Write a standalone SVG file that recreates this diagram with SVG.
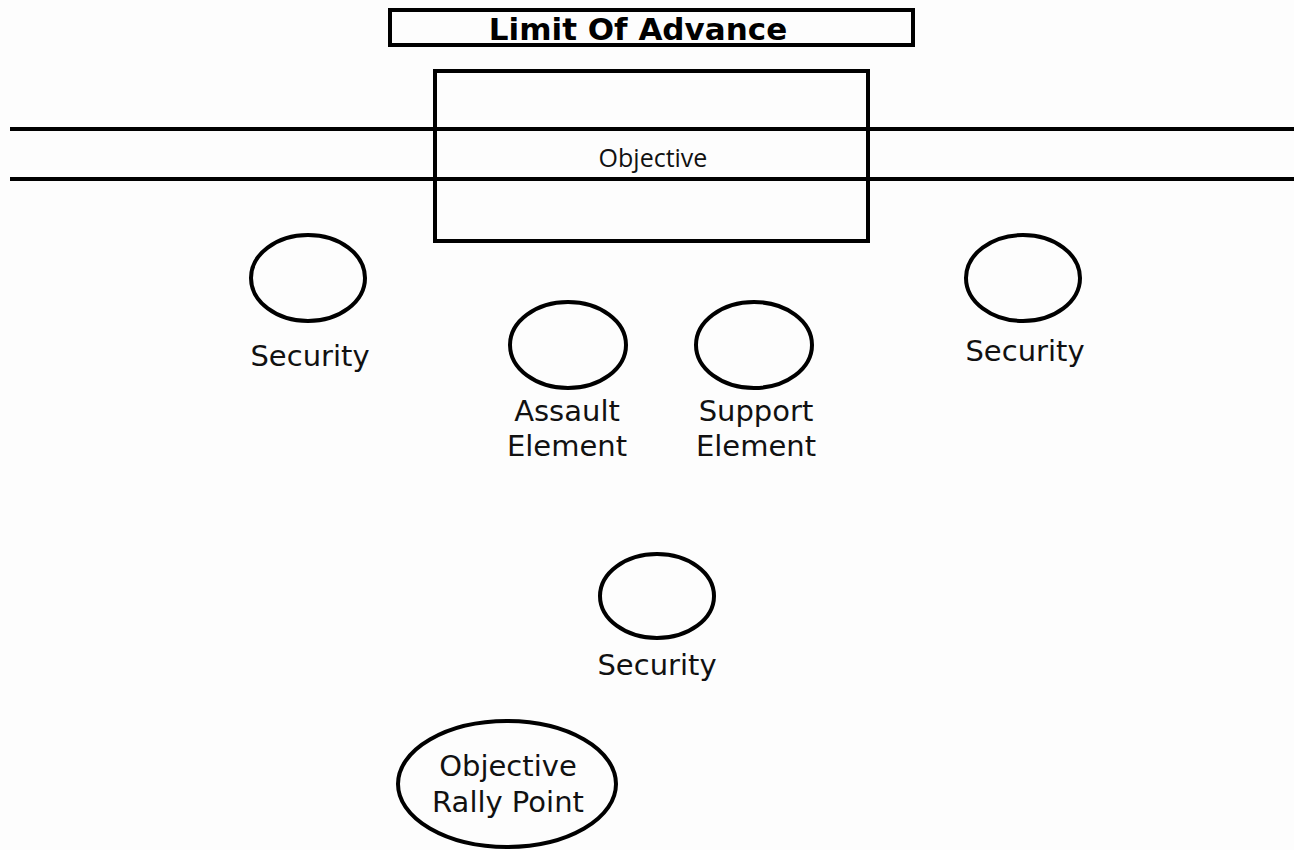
<svg xmlns="http://www.w3.org/2000/svg" width="1294" height="850" viewBox="0 0 1294 850">
  <style>
    .frame { fill: none; stroke: #000; stroke-width: 4; }
    .unit { fill: none; stroke: #000; stroke-width: 4; }
    .label { font-family: "DejaVu Sans", sans-serif; font-size: 29px; fill: #111; text-anchor: middle; }
    .title { font-family: "DejaVu Sans", sans-serif; font-weight: bold; font-size: 31px; fill: #000; text-anchor: middle; }
    .obj { font-family: "Open Sans", sans-serif; font-size: 25px; fill: #111; text-anchor: middle; }
  </style>
  <rect x="0" y="0" width="1294" height="850" fill="#fdfdfd"/>

  <!-- road / phase lines running across the objective -->
  <g id="connectors">
    <line class="frame" x1="10" y1="129" x2="1294" y2="129"/>
    <line class="frame" x1="10" y1="179" x2="1294" y2="179"/>
  </g>

  <g id="limit-of-advance">
    <rect class="frame" x="390" y="10" width="523" height="35"/>
    <text class="title" x="638" y="40">Limit Of Advance</text>
  </g>

  <g id="objective">
    <rect class="frame" x="435" y="71" width="433" height="170"/>
    <text class="obj" x="653" y="167">Objective</text>
  </g>

  <g id="security-left">
    <ellipse class="unit" cx="308" cy="278" rx="57" ry="43"/>
    <text class="label" x="310" y="366">Security</text>
  </g>

  <g id="security-right">
    <ellipse class="unit" cx="1023" cy="278" rx="57" ry="43"/>
    <text class="label" x="1025" y="361">Security</text>
  </g>

  <g id="assault-element">
    <ellipse class="unit" cx="568" cy="345" rx="58" ry="43"/>
    <text class="label" x="567" y="421">Assault</text>
    <text class="label" x="567" y="456">Element</text>
  </g>

  <g id="support-element">
    <ellipse class="unit" cx="754" cy="345" rx="58" ry="43"/>
    <text class="label" x="756" y="421">Support</text>
    <text class="label" x="756" y="456">Element</text>
  </g>

  <g id="security-rear">
    <ellipse class="unit" cx="657" cy="596" rx="57" ry="42"/>
    <text class="label" x="657" y="675">Security</text>
  </g>

  <g id="objective-rally-point">
    <ellipse class="unit" cx="507" cy="784" rx="109" ry="63"/>
    <text class="label" x="508" y="776">Objective</text>
    <text class="label" x="508" y="812">Rally Point</text>
  </g>
</svg>
